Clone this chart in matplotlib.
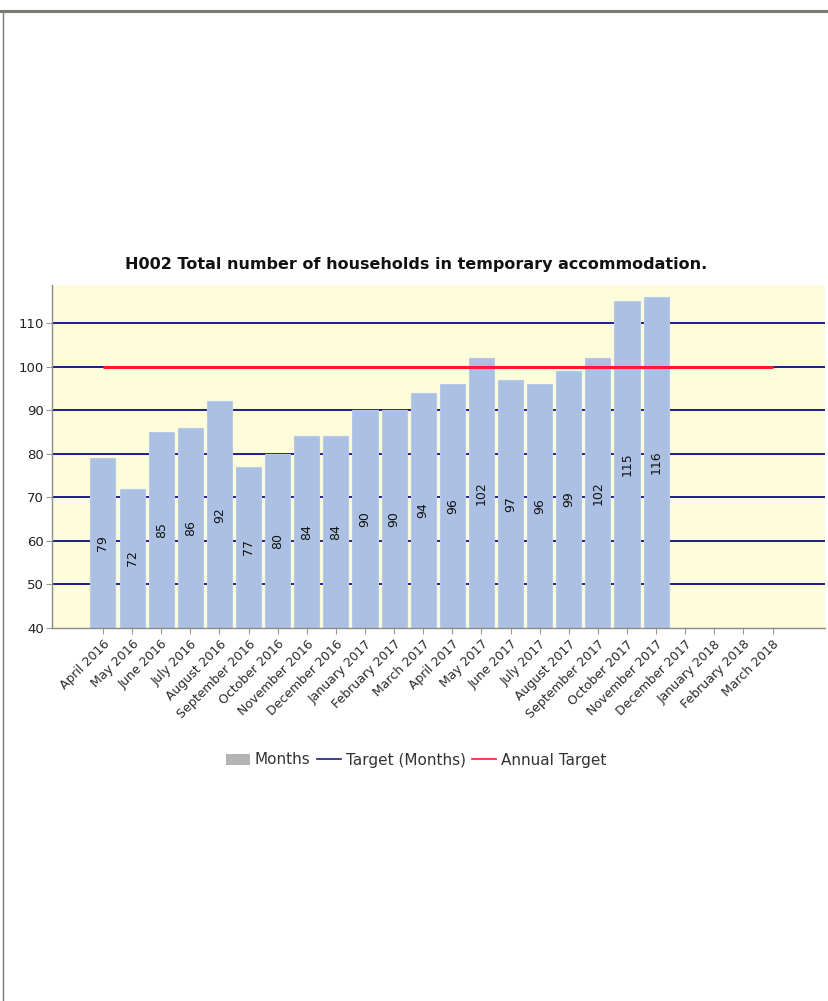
import matplotlib
matplotlib.use("Agg")
import matplotlib.pyplot as plt
from matplotlib.patches import Patch
from matplotlib.lines import Line2D
import numpy as np

months = ["April 2016", "May 2016", "June 2016", "July 2016", "August 2016",
          "September 2016", "October 2016", "November 2016", "December 2016",
          "January 2017", "February 2017", "March 2017", "April 2017",
          "May 2017", "June 2017", "July 2017", "August 2017",
          "September 2017", "October 2017", "November 2017", "December 2017",
          "January 2018", "February 2018", "March 2018"]
households = [79, 72, 85, 86, 92, 77, 80, 84, 84, 90, 90, 94, 96, 102, 97, 96,
              99, 102, 115, 116]
annual_target = 100
y_ticks = [40, 50, 60, 70, 80, 90, 100, 110]

plt.rcParams["font.family"] = ["DejaVu Sans"]

fig = plt.figure(figsize=(8.29, 10.01), dpi=100)

# page frame
fig.add_artist(Line2D([0, 1], [1 - 10.5 / 1001] * 2, color="#7a7a70", lw=2.2,
                      transform=fig.transFigure))
fig.add_artist(Line2D([3 / 829] * 2, [0, 1 - 12 / 1001], color="#7a7a70", lw=1.0,
                      transform=fig.transFigure))

ax = fig.add_axes([52 / 829, 1 - 628 / 1001, (825 - 52) / 829, (628 - 285) / 1001])
ax.set_facecolor("#fdfddc")

x = np.arange(len(households))
ax.set_xlim(-1.75, 24.8)
ax.set_ylim(40, 118.7)

# target grid lines in navy behind the bars
for t in y_ticks[1:]:
    ax.axhline(t, color="#1c1c8a", lw=1.4, zorder=1)

bars = ax.bar(x, households, width=0.86, bottom=0, color="#abc0e2",
              edgecolor="#b8cae6", linewidth=0.8, zorder=2)

# annual target across the whole year range
ax.plot([0, len(months) - 1], [annual_target] * 2, color="#ff1a2e", lw=2.2,
        zorder=3, solid_capstyle="butt")

for xi, v in zip(x, households):
    ax.text(xi, (40 + v) / 2, str(v), rotation=90, ha="center", va="center",
            fontsize=9, color="#111111", zorder=4)

ax.set_xticks(np.arange(len(months)))
ax.set_xticklabels(months, rotation=45, ha="right", rotation_mode="anchor",
                   fontsize=9, color="#2a2a2a")
ax.set_yticks(y_ticks)
ax.set_yticklabels([str(t) for t in y_ticks], fontsize=9.5, color="#222222")
ax.tick_params(axis="x", length=4, color="#9a9a9a", pad=3)
ax.tick_params(axis="y", length=4, color="#9a9a9a", pad=2)

for side in ["top", "right"]:
    ax.spines[side].set_visible(False)
for side in ["left", "bottom"]:
    ax.spines[side].set_color("#8a8a8a")
    ax.spines[side].set_linewidth(1.0)

fig.text(416 / 829, 1 - 265 / 1001,
         "H002 Total number of households in temporary accommodation.",
         ha="center", va="center", fontsize=11.5, fontweight="bold", color="#111111")

handles = [Patch(facecolor="#b4b4b4", edgecolor="none", label="Months"),
           Line2D([], [], color="#1c1c8a", lw=1.2, label="Target (Months)"),
           Line2D([], [], color="#ff1a2e", lw=1.2, label="Annual Target")]
fig.legend(handles=handles, loc="center", bbox_to_anchor=(416 / 829, 1 - 760 / 1001),
           ncol=3, frameon=False, fontsize=11, handlelength=1.6,
           handletextpad=0.3, columnspacing=0.4, labelcolor="#333333")

fig.savefig("out.png", dpi=100)
